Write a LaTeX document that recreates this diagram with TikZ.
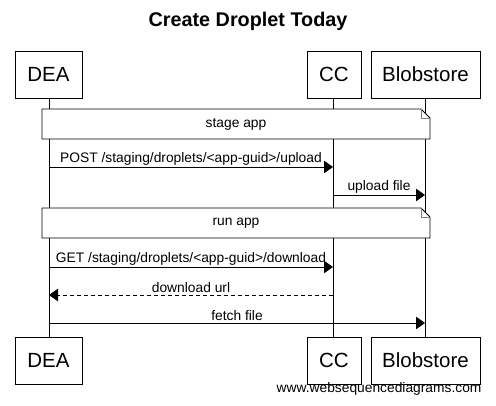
\documentclass[tikz,border=0pt]{standalone}
\usepackage{fontspec}
\setmainfont{Liberation Sans}
\usetikzlibrary{arrows.meta}
\begin{document}
\begin{tikzpicture}[x=1pt,y=-1pt,
  part/.style={draw,line width=0.9pt,fill=white,minimum height=47pt,inner sep=0pt,font=\fontsize{20.5}{23}\selectfont},
  msg/.style={-{Triangle[length=9pt,width=12.5pt]},line width=0.8pt},
  lbl/.style={font=\fontsize{13.8}{15}\selectfont,inner sep=1.5pt,anchor=south},
  life/.style={line width=0.8pt}]
\useasboundingbox (0,0) rectangle (496,405);
\node[font=\bfseries\fontsize{19.8}{22}\selectfont] (title) at (248,21) {Create Droplet Today};
% top participants
\node[part,minimum width=67pt] (deaT) at (48.5,74.5) {DEA};
\node[part,minimum width=54pt] (ccT) at (334,74.5) {CC};
\node[part,minimum width=109pt] (bsT) at (425.5,74.5) {Blobstore};
% bottom participants
\node[part,minimum width=67pt] (deaB) at (48.5,360.5) {DEA};
\node[part,minimum width=54pt] (ccB) at (334,360.5) {CC};
\node[part,minimum width=109pt] (bsB) at (425.5,360.5) {Blobstore};
% lifelines
\coordinate (dT) at (49,98); \coordinate (dB) at (49,337);
\coordinate (cT) at (333,98); \coordinate (cB) at (333,337);
\coordinate (bT) at (425,98); \coordinate (bB) at (425,337);
\draw[life] (dT) -- (dB);
\draw[life] (cT) -- (cB);
\draw[life] (bT) -- (bB);
% notes
\foreach \nm/\ya/\yb/\tx in {n1/109/139/stage app, n2/208/238/run app}{
  \fill[white] (42,\ya) -- (421,\ya) -- (430,\ya+9) -- (430,\yb) -- (42,\yb) -- cycle;
  \draw[line width=0.8pt] (42,\ya) -- (421,\ya) -- (430,\ya+9) -- (430,\yb) -- (42,\yb) -- cycle;
  \draw[line width=0.6pt,draw=gray] (421,\ya) -- (421,\ya+9) -- (430,\ya+9);
  \node[font=\fontsize{13.8}{15}\selectfont] (\nm) at (236,{(\ya+\yb)/2}) {\tx};
}
% messages
\coordinate (m1a) at (49,167); \coordinate (m1b) at (333,167);
\draw[msg] (m1a) -- node[lbl] {POST /staging/droplets/<app-guid>/upload} (m1b);
\coordinate (m2a) at (333,195); \coordinate (m2b) at (425,195);
\draw[msg] (m2a) -- node[lbl] {upload file} (m2b);
\coordinate (m3a) at (49,267); \coordinate (m3b) at (333,267);
\draw[msg] (m3a) -- node[lbl] {GET /staging/droplets/<app-guid>/download} (m3b);
\coordinate (m4a) at (333,295); \coordinate (m4b) at (49,295);
\draw[msg,dash pattern=on 4pt off 3pt] (m4a) -- node[lbl] {download url} (m4b);
\coordinate (m5a) at (49,323); \coordinate (m5b) at (425,323);
\draw[msg] (m5a) -- node[lbl] {fetch file} (m5b);
% footer
\node[font=\fontsize{13.8}{15}\selectfont,anchor=east] (foot) at (485,389) {www.websequencediagrams.com};
\end{tikzpicture}
\end{document}
